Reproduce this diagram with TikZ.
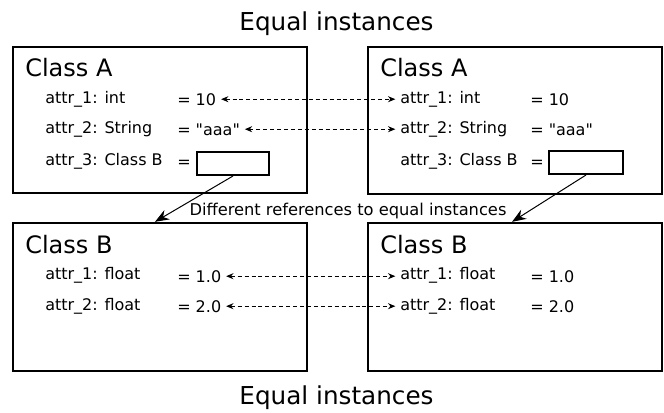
\documentclass[tikz,border=0pt]{standalone}
\usepackage{fontspec}
\setmainfont{DejaVu Sans}[Ligatures=TeXOff]
\usetikzlibrary{arrows.meta,fit,calc}

\begin{document}
\begin{tikzpicture}[x=0.75pt,y=-0.75pt,
  bigbox/.style={draw, line width=1.8pt, inner sep=0pt},
  refbox/.style={draw, line width=1.5pt, inner sep=0pt},
  classname/.style={anchor=base west, inner sep=0pt, font=\fontsize{18}{21}\selectfont},
  attr/.style={anchor=base west, inner sep=0pt, text height=8.7pt, text depth=2pt, font=\fontsize{12}{14}\selectfont},
  val/.style={anchor=base west, inner sep=0pt, text height=8.7pt, text depth=0pt, font=\fontsize{12}{14}\selectfont},
  heading/.style={anchor=base, inner sep=0pt, font=\fontsize{18.5}{22}\selectfont},
  note/.style={anchor=base, inner sep=0pt, font=\fontsize{12.2}{14}\selectfont},
  eqlink/.style={dash pattern=on 3pt off 2.2pt, line width=0.75pt,
    {Stealth[length=5.5pt,width=4.5pt]}-{Stealth[length=5.5pt,width=4.5pt]},
    shorten <=3.5pt, shorten >=3.5pt},
  reflink/.style={-{Stealth[length=10.5pt,width=8pt]}, line width=0.75pt}]

\useasboundingbox (0,0) rectangle (664,412);

% headings
\node[heading] (top) at (336.5,30) {Equal instances};
\node[heading] (bottom) at (336.5,404) {Equal instances};

% left instance of class A
\node[bigbox, fit={(13,47) (307,193)}] (AL) {};
\node[classname] (cAL) at (25,76) {Class A};
\node[attr] (a1L) at (45,103) {attr\_1: int};
\node[val] (v1L) at (177,105) {= 10};
\node[attr] (a2L) at (45,133) {attr\_2: String};
\node[val] (v2L) at (177,135) {= "aaa"};
\node[attr] (a3L) at (45,165) {attr\_3: Class B};
\node[val] (v3L) at (177,167) {=};
\node[refbox, fit={(197,152) (269,175)}] (rL) {};

% right instance of class A
\node[bigbox, fit={(368,47) (662,194)}] (AR) {};
\node[classname] (cAR) at (380,76) {Class A};
\node[attr] (a1R) at (400,103) {attr\_1: int};
\node[val] (v1R) at (530,105) {= 10};
\node[attr] (a2R) at (400,133) {attr\_2: String};
\node[val] (v2R) at (530,135) {= "aaa"};
\node[attr] (a3R) at (400,165) {attr\_3: Class B};
\node[val] (v3R) at (530,167) {=};
\node[refbox, fit={(549,151) (623,174)}] (rR) {};

% left instance of class B
\node[bigbox, fit={(13,223) (307,371)}] (BL) {};
\node[classname] (cBL) at (25,253) {Class B};
\node[attr] (b1L) at (45,279) {attr\_1: float};
\node[val] (w1L) at (177,282) {= 1.0};
\node[attr] (b2L) at (45,310) {attr\_2: float};
\node[val] (w2L) at (177,312) {= 2.0};

% right instance of class B
\node[bigbox, fit={(368,223) (662,371)}] (BR) {};
\node[classname] (cBR) at (380,253) {Class B};
\node[attr] (b1R) at (400,279) {attr\_1: float};
\node[val] (w1R) at (530,282) {= 1.0};
\node[attr] (b2R) at (400,310) {attr\_2: float};
\node[val] (w2R) at (530,312) {= 2.0};

% equal values
\draw[eqlink] (v1L.east) -- (v1L.east -| a1R.west);
\draw[eqlink] (v2L.east) -- (v2L.east -| a2R.west);
\draw[eqlink] (w1L.east) -- (w1L.east -| b1R.west);
\draw[eqlink] (w2L.east) -- (w2L.east -| b2R.west);

% references
\coordinate (tL) at ($(BL.north west)!0.483!(BL.north east)$);
\coordinate (tR) at ($(BR.north west)!0.49!(BR.north east)$);
\draw[reflink] (rL.south) -- (tL);
\draw[reflink] (rR.south) -- (tR);
\node[note] (diff) at (348,215) {Different references to equal instances};

\end{tikzpicture}
\end{document}
